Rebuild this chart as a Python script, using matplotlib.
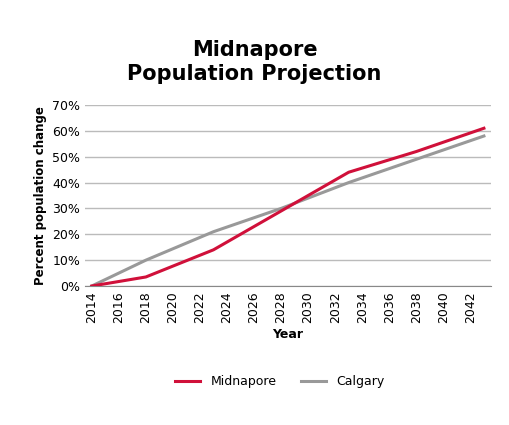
import matplotlib.pyplot as plt
import numpy as np

years = [2014, 2018, 2023, 2028, 2033, 2038, 2043]
midnapore = [0, 3.5, 14, 29, 44, 52, 61]
calgary = [0, 10, 21, 30, 40, 49, 58]

fig = plt.figure(figsize=(5.09, 4.25), dpi=100)
ax = fig.add_axes([0.167, 0.327, 0.797, 0.426])

ax.plot(years, midnapore, color="#d0103a", lw=2.2, label="Midnapore", zorder=3)
ax.plot(years, calgary, color="#999999", lw=2.2, label="Calgary", zorder=2)

ax.set_xlim(2013.5, 2043.5)
ax.set_ylim(0, 70)
ax.set_xticks(np.arange(2014, 2043, 2))
ax.set_xticklabels([str(y) for y in range(2014, 2043, 2)], rotation=90, fontsize=9)
ax.set_yticks(np.arange(0, 71, 10))
ax.set_yticklabels([f"{v}%" for v in range(0, 71, 10)], fontsize=9)
ax.grid(axis="y", color="#bbbbbb", lw=1)
ax.set_axisbelow(True)
for s in ["top", "right", "left"]:
    ax.spines[s].set_visible(False)
ax.spines["bottom"].set_color("#888888")
ax.tick_params(length=0)

ax.set_xlabel("Year", fontsize=9, fontweight="bold")
ax.set_ylabel("Percent population change", fontsize=8.5, fontweight="bold")
fig.suptitle("Midnapore\nPopulation Projection", fontsize=15, fontweight="bold", y=0.905)
fig.legend(loc="lower center", ncol=2, frameon=False, fontsize=9, bbox_to_anchor=(0.55, 0.06))

fig.savefig("out.png", dpi=100)
